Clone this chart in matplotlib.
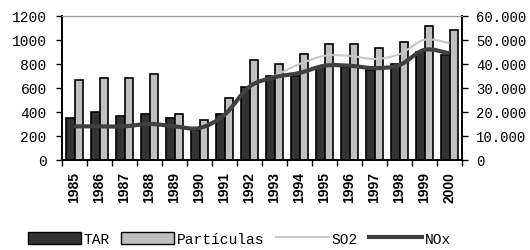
import numpy as np
import matplotlib
matplotlib.use("Agg")
import matplotlib.pyplot as plt
from matplotlib.path import Path
from matplotlib.patches import PathPatch, Patch
from matplotlib.lines import Line2D
from matplotlib.ticker import FuncFormatter

years = ["1985", "1986", "1987", "1988", "1989", "1990", "1991", "1992",
         "1993", "1994", "1995", "1996", "1997", "1998", "1999", "2000"]
tar = [350, 400, 368, 382, 350, 250, 382, 609,
       698, 700, 775, 775, 750, 800, 900, 870]
particulas = [665, 682, 682, 715, 382, 335, 515, 831,
              798, 881, 964, 964, 928, 983, 1114, 1081]
so2 = [14000, 14000, 14200, 15000, 14200, 13500, 19000, 30700,
       35000, 39900, 43300, 43300, 42000, 44000, 50000, 48600]
nox = [14000, 14000, 14000, 15000, 14000, 13300, 18800, 30500,
       34400, 36200, 39200, 39200, 38200, 39500, 45800, 44300]

mono = "Liberation Mono"


# smooth curve through the points (like Excel smoothed lines)
def smooth_path(x, y):
    x = np.asarray(x, float)
    y = np.asarray(y, float)
    verts = [(x[0], y[0])]
    codes = [Path.MOVETO]
    n = len(x)
    for i in range(n - 1):
        x0, y0 = (x[i - 1], y[i - 1]) if i > 0 else (x[i], y[i])
        x3, y3 = (x[i + 2], y[i + 2]) if i + 2 < n else (x[i + 1], y[i + 1])
        c1 = (x[i] + (x[i + 1] - x0) / 6, y[i] + (y[i + 1] - y0) / 6)
        c2 = (x[i + 1] - (x3 - x[i]) / 6, y[i + 1] - (y3 - y[i]) / 6)
        verts += [c1, c2, (x[i + 1], y[i + 1])]
        codes += [Path.CURVE4] * 3
    return Path(verts, codes)


fig = plt.figure(figsize=(5.30, 2.51), dpi=100)
ax = fig.add_axes([62 / 530, 1 - 161 / 251, 400 / 530, 144.3 / 251])
x = np.arange(len(years))
w = 0.34

ax.bar(x - w / 2, tar, width=w, color="#333333", edgecolor="black", linewidth=1.2, zorder=2)
ax.bar(x + w / 2, particulas, width=w, color="#c0c0c0", edgecolor="black", linewidth=1.2, zorder=2)

ax.set_xlim(-0.5, len(years) - 0.5)
ax.set_ylim(0, 1200)
ax.set_yticks(range(0, 1201, 200))
ax.set_xticks(x)
ax.set_xticklabels(years, rotation=90, fontweight="bold", fontsize=10, family="Liberation Sans")
ax.set_xticks(np.arange(-0.5, len(years)), minor=True)
ax.tick_params(axis="x", which="major", length=0, pad=8)
ax.tick_params(axis="x", which="minor", length=4, direction="out", width=1)
ax.tick_params(axis="y", length=4, direction="out", width=1, pad=7)
for lab in ax.get_yticklabels():
    lab.set_family(mono)
    lab.set_fontsize(10.5)

ax2 = ax.twinx()
ax2.set_ylim(0, 60000)
ax2.set_yticks(range(0, 60001, 10000))
ax2.yaxis.set_major_formatter(FuncFormatter(lambda v, p: "0" if v == 0 else f"{int(v / 1000)}.000"))
ax2.tick_params(axis="y", length=4, direction="out", width=1, pad=6)
for lab in ax2.get_yticklabels():
    lab.set_family(mono)
    lab.set_fontsize(10)

ax2.add_patch(PathPatch(smooth_path(x, so2), facecolor="none", edgecolor="#c8c8c8", linewidth=1.5, zorder=3))
ax2.add_patch(PathPatch(smooth_path(x, nox), facecolor="none", edgecolor="#404040", linewidth=3, zorder=4))

for a in (ax, ax2):
    a.spines["top"].set_color("#999999")
    a.spines["left"].set_linewidth(1.2)
    a.spines["right"].set_linewidth(1.2)
    a.spines["bottom"].set_linewidth(1.2)

handles = [
    Patch(facecolor="#333333", edgecolor="black", linewidth=1),
    Patch(facecolor="#c0c0c0", edgecolor="black", linewidth=1),
    Line2D([], [], color="#c8c8c8", linewidth=1.5),
    Line2D([], [], color="#404040", linewidth=3),
]
fig.legend(handles, ["TAR", "Partículas", "SO2", "NOx"], loc="lower left",
           bbox_to_anchor=(15 / 530, -0.035), ncol=4, frameon=False,
           handlelength=3.6, handleheight=0.9, handletextpad=0.2, columnspacing=0.8,
           prop={"family": mono, "size": 10.5})

fig.savefig("out.png", dpi=100)
